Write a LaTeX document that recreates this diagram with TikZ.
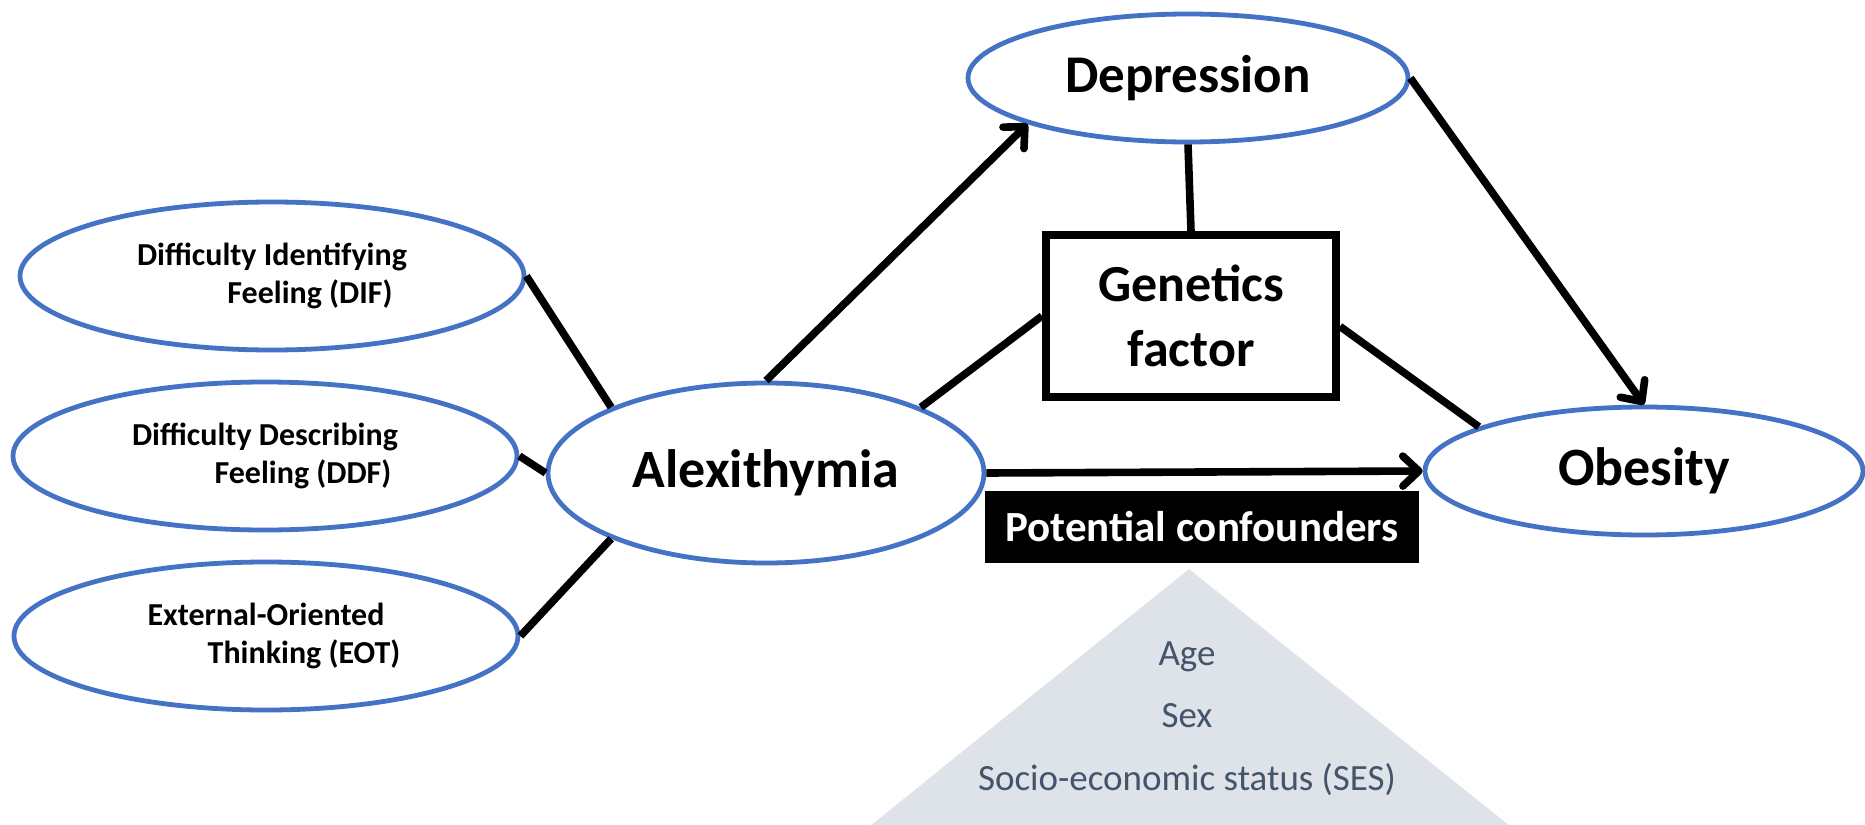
\documentclass[tikz,border=0pt]{standalone}
\usepackage{fontspec}
\setmainfont{Carlito}
\usetikzlibrary{shapes.geometric,arrows.meta,positioning}

\definecolor{ovalblue}{HTML}{4472C4}
\definecolor{confgray}{HTML}{DEE3EA}
\definecolor{conftext}{HTML}{44546A}

\begin{document}
\begin{tikzpicture}[x=0.5pt,y=-0.5pt,
  oval/.style={ellipse,draw=ovalblue,line width=2.4pt,inner sep=0pt},
  sub/.style={oval,minimum width=252pt,minimum height=74pt,align=center,font=\fontsize{16}{19}\selectfont\bfseries},
  big/.style={oval,font=\fontsize{27}{32}\selectfont\bfseries},
  link/.style={line width=3.8pt},
  arr/.style={link,-{Straight Barb[length=8pt,width=15pt,round]}}]
\useasboundingbox (0,0) rectangle (1865,825);

\node[sub] (dif) at (272,276) {Difficulty Identifying\\\hspace*{38pt}Feeling (DIF)};
\node[sub] (ddf) at (265,456) {Difficulty Describing\\\hspace*{38pt}Feeling (DDF)};
\node[sub] (eot) at (266,636) {External-Oriented\\\hspace*{38pt}Thinking (EOT)};

\node[big,minimum width=218pt,minimum height=90pt] (alex) at (766,473) {Alexithymia};
\node[oval,minimum width=220pt,minimum height=64pt,font=\fontsize{26.5}{30}\selectfont\bfseries] (dep) at (1188,78) {Depression};
\node[draw,line width=4pt,minimum width=145pt,minimum height=81pt,align=center,font=\fontsize{26}{32.5}\selectfont\bfseries] (gen) at (1191,316) {Genetics\\factor};
\node[big,minimum width=219pt,minimum height=64pt] (obe) at (1644,471) {Obesity};
\node[fill=black,text=white,minimum width=217pt,minimum height=36pt,inner sep=0pt,font=\fontsize{21.5}{25}\selectfont\bfseries] (conf) at (1202,527) {Potential confounders};

% confounders
\fill[confgray] (1189,569) -- (870,826) -- (1510,826) -- cycle;
\foreach \t [count=\n] in {Age,Sex,{Socio-economic status (SES)}}
  \node[anchor=base,text=conftext,font=\fontsize{18.5}{22}\selectfont] (c\n) at (1187,{602.5+62.5*\n}) {\t};

\draw[link] (dif.east) -- (alex.157);
\draw[link] (ddf.east) -- (alex.west);
\draw[link] (eot.east) -- (alex.203);
\draw[arr] (alex.north) -- (dep.196);
\draw[link] (dep.south) -- (gen.north);
\draw[link] (alex.23) -- (gen.west);
\draw[link] (gen.-4) -- (obe.165);
\draw[arr] (dep.east) -- (obe.north);
\draw[arr] (alex.east) -- (obe.west);
\end{tikzpicture}
\end{document}
